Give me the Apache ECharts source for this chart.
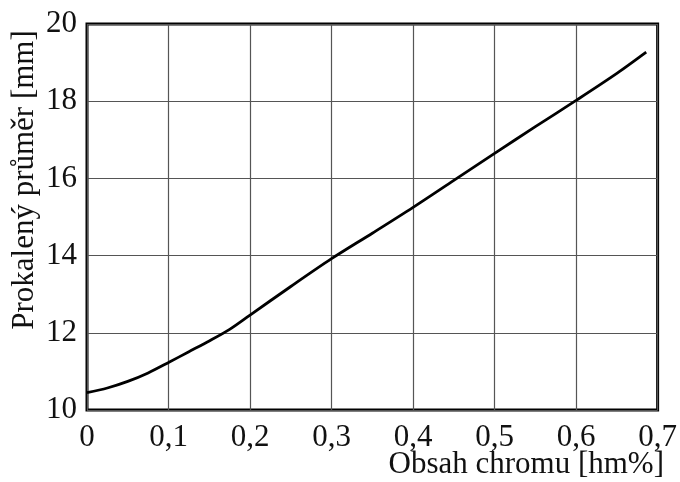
<!DOCTYPE html>
<html>
<head>
<meta charset="utf-8">
<script src="https://cdn.jsdelivr.net/npm/echarts@6/dist/echarts.min.js"></script>
<style>
  html, body { margin: 0; padding: 0; background: #fff; }
  #chart { width: 680px; height: 482px; }
</style>
</head>
<body>
<div id="chart"></div>
<script>
// Chromium content (wt.%) vs. hardened diameter (mm)
const chromium = [0, 0.025, 0.05, 0.075, 0.1, 0.125, 0.15, 0.175, 0.2, 0.25, 0.3, 0.35, 0.4, 0.45, 0.5, 0.55, 0.6, 0.65, 0.686];
const diameter = [10.45, 10.57, 10.74, 10.96, 11.23, 11.51, 11.79, 12.09, 12.46, 13.2, 13.92, 14.58, 15.25, 15.95, 16.65, 17.34, 18.02, 18.72, 19.27];

const xTicks = [0, 0.1, 0.2, 0.3, 0.4, 0.5, 0.6, 0.7];
const yTicks = [10, 12, 14, 16, 18, 20];

const xTitle = 'Obsah chromu [hm%]';
const yTitle = 'Prokalený průměr [mm]';

const FONT = '"Liberation Serif", "Times New Roman", serif';

const chart = echarts.init(document.getElementById('chart'), null, { renderer: 'canvas' });

chart.setOption({
  animation: false,
  backgroundColor: '#fff',
  grid: {
    left: 87, right: 18, top: 24, bottom: 72,
    show: true,
    borderColor: '#000',
    borderWidth: 3,
    backgroundColor: 'transparent'
  },
  xAxis: {
    type: 'value',
    min: xTicks[0],
    max: xTicks[xTicks.length - 1],
    interval: 0.1,
    axisLine: { show: false },
    axisTick: { show: false },
    splitLine: { show: true, lineStyle: { color: '#555', width: 1.2 } },
    axisLabel: {
      margin: 12,
      color: '#111',
      fontFamily: FONT,
      fontSize: 31,
      formatter: v => (Math.round(v * 10) / 10).toString().replace('.', ',')
    }
  },
  yAxis: {
    type: 'value',
    min: yTicks[0],
    max: yTicks[yTicks.length - 1],
    interval: 2,
    axisLine: { show: false },
    axisTick: { show: false },
    splitLine: { show: true, lineStyle: { color: '#555', width: 1.2 } },
    axisLabel: {
      margin: 10,
      color: '#111',
      fontFamily: FONT,
      fontSize: 31
    }
  },
  series: [{
    type: 'line',
    data: chromium.map((x, i) => [x, diameter[i]]),
    smooth: 0.3,
    showSymbol: false,
    lineStyle: { color: '#000', width: 2.8 },
    z: 3
  }],
  graphic: [
    {
      type: 'text',
      right: 16,
      top: 449,
      style: {
        text: xTitle,
        fontFamily: FONT,
        fontSize: 31,
        fill: '#111'
      }
    },
    {
      type: 'text',
      x: 25,
      y: 180,
      rotation: Math.PI / 2,
      style: {
        text: yTitle,
        fontFamily: FONT,
        fontSize: 31,
        fill: '#111',
        textAlign: 'center',
        textVerticalAlign: 'middle'
      }
    }
  ]
});
</script>
</body>
</html>
